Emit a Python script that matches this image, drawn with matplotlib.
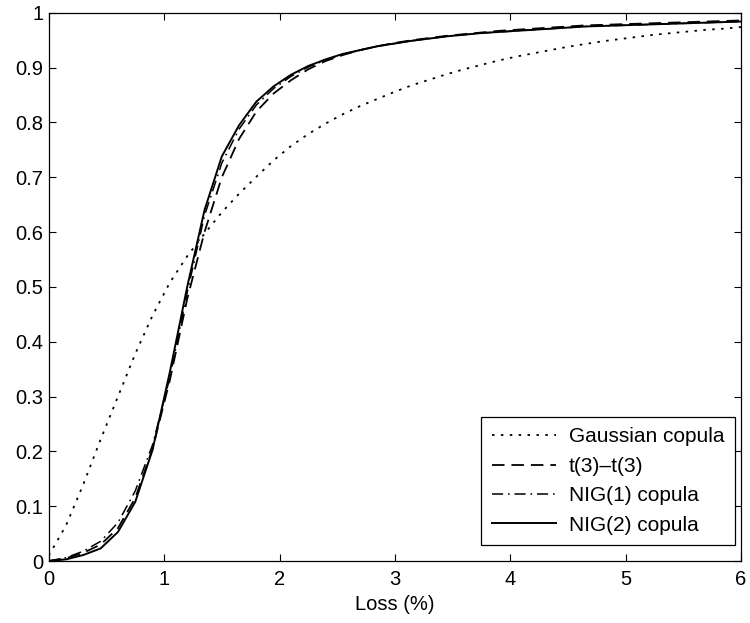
import numpy as np
import matplotlib
matplotlib.use("Agg")
import matplotlib.pyplot as plt

plt.rcParams['font.family'] = ['Liberation Sans', 'DejaVu Sans']
plt.rcParams['lines.scale_dashes'] = False

loss = [round(0.15 * i, 2) for i in range(41)]

gaussian = [0.010, 0.065, 0.140, 0.222, 0.300, 0.378, 0.448, 0.508, 0.556, 0.597,
            0.636, 0.670, 0.701, 0.731, 0.757, 0.779, 0.798, 0.815, 0.830, 0.843,
            0.856, 0.868, 0.878, 0.888, 0.897, 0.905, 0.913, 0.920, 0.926, 0.932,
            0.938, 0.943, 0.948, 0.952, 0.956, 0.960, 0.963, 0.966, 0.969, 0.971, 0.974]

t3t3 = [0.000, 0.005, 0.015, 0.030, 0.060, 0.115, 0.205, 0.330, 0.478, 0.600,
        0.700, 0.770, 0.820, 0.853, 0.877, 0.897, 0.912, 0.923, 0.932, 0.939,
        0.945, 0.950, 0.954, 0.958, 0.961, 0.964, 0.967, 0.969, 0.971, 0.973,
        0.975, 0.977, 0.978, 0.979, 0.980, 0.981, 0.982, 0.983, 0.984, 0.985, 0.986]

nig1 = [0.000, 0.006, 0.018, 0.036, 0.070, 0.128, 0.212, 0.335, 0.490, 0.630,
        0.726, 0.788, 0.832, 0.862, 0.884, 0.901, 0.914, 0.924, 0.932, 0.939,
        0.944, 0.949, 0.953, 0.957, 0.960, 0.963, 0.965, 0.967, 0.969, 0.971,
        0.973, 0.975, 0.976, 0.977, 0.978, 0.979, 0.980, 0.981, 0.982, 0.983, 0.984]

nig2 = [0.000, 0.003, 0.011, 0.023, 0.053, 0.108, 0.203, 0.345, 0.500, 0.640,
        0.738, 0.795, 0.838, 0.866, 0.887, 0.903, 0.915, 0.925, 0.932, 0.939,
        0.944, 0.949, 0.953, 0.957, 0.960, 0.963, 0.965, 0.967, 0.969, 0.971,
        0.973, 0.975, 0.976, 0.977, 0.978, 0.979, 0.980, 0.981, 0.982, 0.983, 0.984]

labels = ['Gaussian copula', 't(3)\u2013t(3)', 'NIG(1) copula', 'NIG(2) copula']

fig = plt.figure(figsize=(7.5, 6.23), dpi=100)
ax = fig.add_axes([0.065, 0.0995, 0.923, 0.880])

ax.plot(loss, gaussian, color='black', lw=1.3, dashes=(1.8, 4.6), label=labels[0])
ax.plot(loss, t3t3, color='black', lw=1.3, dashes=(9, 5), label=labels[1])
ax.plot(loss, nig1, color='black', lw=1.1, dashes=(8, 3.5, 1.2, 3.5), label=labels[2])
ax.plot(loss, nig2, color='black', lw=1.4, linestyle='-', label=labels[3])

ax.set_xlim(0, 6)
ax.set_ylim(0, 1)
ax.set_xticks(range(0, 7))
ax.set_yticks(np.round(np.arange(0, 1.01, 0.1), 1))
ax.set_yticklabels(['0', '0.1', '0.2', '0.3', '0.4', '0.5', '0.6', '0.7', '0.8', '0.9', '1'])
ax.tick_params(direction='in', top=True, right=True, length=5, width=0.8,
               labelsize=14.5, pad=4)
ax.tick_params(axis='x', pad=6.5)
for s in ax.spines.values():
    s.set_linewidth(0.9)
ax.set_xlabel('Loss (%)', fontsize=14.5, labelpad=4)

leg = ax.legend(loc='lower right', bbox_to_anchor=(0.991, 0.029), fontsize=15,
                handlelength=3.1, handletextpad=0.6, borderpad=0.5,
                labelspacing=0.5, fancybox=False, framealpha=1,
                edgecolor='black', borderaxespad=0.0)
leg.get_frame().set_linewidth(0.9)

fig.savefig('out.png', dpi=100)
